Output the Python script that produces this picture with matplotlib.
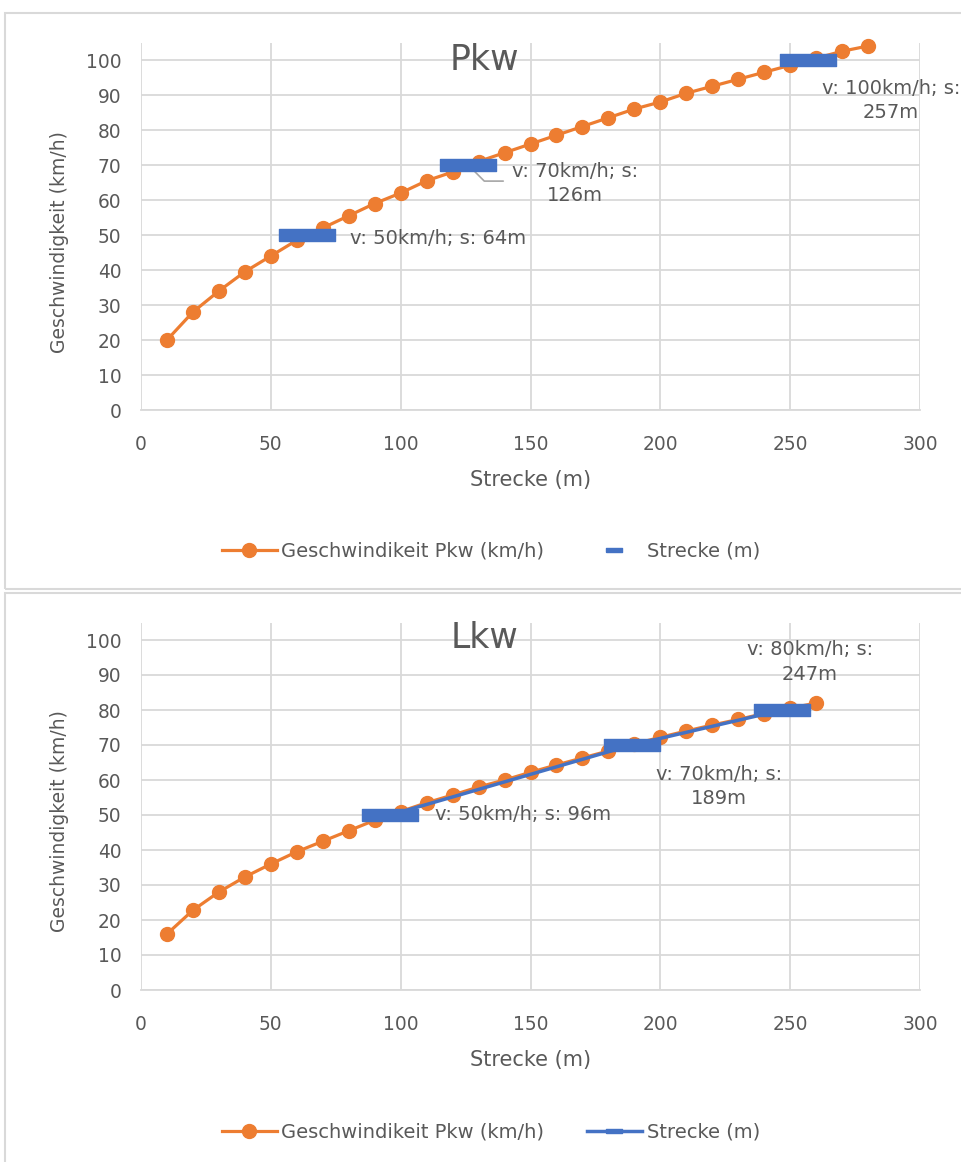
import numpy as np
import matplotlib.pyplot as plt
from matplotlib.lines import Line2D
from matplotlib.patches import Rectangle

plt.rcParams['font.family'] = ['DejaVu Sans']

# Data
pkw_x = list(range(10, 290, 10))
pkw_v = [20, 28, 34, 39.5, 44, 48.5, 52, 55.5, 59, 62, 65.5, 68, 71, 73.5,
         76, 78.5, 81, 83.5, 86, 88, 90.5, 92.5, 94.5, 96.5, 98.5, 100.5,
         102.5, 104]
pkw_s = [64, 126, 257]
pkw_sv = [50, 70, 100]
pkw_labels = ["v: 50km/h; s: 64m", "v: 70km/h; s:\n126m", "v: 100km/h; s:\n257m"]
pkw_label_pos = [(80.5, 49.1, 'left'), (167, 64.7, 'center'), (288.8, 88.4, 'center')]

lkw_x = list(range(10, 270, 10))
lkw_v = [16, 22.8, 28, 32.3, 36, 39.5, 42.5, 45.5, 48.5, 51, 53.5, 55.7, 58,
         60, 62.2, 64.3, 66.3, 68.3, 70.3, 72.2, 74, 75.7, 77.3, 79, 80.5, 82]
lkw_s = [96, 189, 247]
lkw_sv = [50, 70, 80]
lkw_labels = ["v: 50km/h; s: 96m", "v: 70km/h; s:\n189m", "v: 80km/h; s:\n247m"]
lkw_label_pos = [(113.2, 50, 'left'), (222.6, 58.1, 'center'), (257.5, 93.7, 'center')]

ORANGE = '#ED7D31'
BLUE = '#4472C4'
GREY = '#595959'
GRID = '#d9d9d9'

dash = [(-1, -0.2), (1, -0.2), (1, 0.2), (-1, 0.2), (-1, -0.2)]

fig = plt.figure(figsize=(9.61, 11.62), dpi=100)

# chart frames
fig.patches.append(Rectangle((5/961, 1-589/1162), 1.0, 576/1162, transform=fig.transFigure,
                             fill=False, edgecolor=GRID, lw=1.5))
fig.patches.append(Rectangle((5/961, -0.01), 1.0, 1-593/1162+0.01, transform=fig.transFigure,
                             fill=False, edgecolor=GRID, lw=1.5))


def setup(ax, title, ty, ly):
    ax.set_xlim(0, 300)
    ax.set_ylim(0, 105)
    ax.set_xticks(range(0, 301, 50))
    ax.set_yticks(range(0, 101, 10))
    ax.grid(True, color=GRID, lw=1.3)
    ax.set_axisbelow(True)
    for s in ['top', 'right', 'left']:
        ax.spines[s].set_visible(False)
    ax.spines['bottom'].set_color(GRID)
    ax.spines['bottom'].set_linewidth(1.3)
    ax.tick_params(length=0, labelsize=13.4, colors=GREY)
    ax.tick_params(axis='x', pad=18)
    ax.tick_params(axis='y', pad=14)
    ax.set_xlabel('Strecke (m)', fontsize=15, color=GREY)
    ax.xaxis.set_label_coords(0.5, -0.19)
    ax.xaxis.label.set_va('center')
    ax.set_ylabel('Geschwindigkeit (km/h)', fontsize=13.5, color=GREY)
    ax.yaxis.set_label_coords(-0.104, ly)
    ax.yaxis.label.set_va('center')
    ax.text(0.441, ty, title, transform=ax.transAxes, ha='center', va='center',
            fontsize=25, color=GREY)


# Pkw
ax1 = fig.add_axes([141/961, 1-410/1162, 779/961, 367.5/1162])
setup(ax1, 'Pkw', 0.952, 0.457)
ax1.plot(pkw_x, pkw_v, color=ORANGE, lw=2.3, marker='o', ms=10, zorder=3, clip_on=False)
ax1.plot(pkw_s, pkw_sv, ls='none', marker=dash, ms=40, color=BLUE, mec=BLUE, zorder=4,
         clip_on=False)
for t, (x, y, ha) in zip(pkw_labels, pkw_label_pos):
    ax1.text(x, y, t, ha=ha, va='center', fontsize=14, color=GREY,
             linespacing=1.35, multialignment='center', clip_on=False)
ax1.annotate('', xy=(pkw_s[1], pkw_sv[1]), xytext=(139.5, 65.4),
             arrowprops=dict(arrowstyle='-', color='#a6a6a6', lw=1.2,
                             shrinkA=0, shrinkB=0,
                             connectionstyle='angle,angleA=0,angleB=-45,rad=0'))
h1 = [Line2D([], [], color=ORANGE, lw=2.3, marker='o', ms=10),
      Line2D([], [], ls='none', marker=dash, ms=11, color=BLUE)]
fig.legend(h1, ['Geschwindikeit Pkw (km/h)', 'Strecke (m)'], loc='center',
           bbox_to_anchor=(491/961, 1-551/1162), ncol=2, frameon=False,
           fontsize=14, labelcolor=GREY, handlelength=2.8, columnspacing=2.2,
           handletextpad=0.25)

# Lkw
ax2 = fig.add_axes([141/961, 1-990/1162, 779/961, 367.5/1162])
setup(ax2, 'Lkw', 0.958, 0.46)
ax2.plot(lkw_x, lkw_v, color=ORANGE, lw=2.3, marker='o', ms=10, zorder=3, clip_on=False)
ax2.plot(lkw_s, lkw_sv, lw=2.5, marker=dash, ms=40, color=BLUE, mec=BLUE, zorder=4,
         clip_on=False)
for t, (x, y, ha) in zip(lkw_labels, lkw_label_pos):
    ax2.text(x, y, t, ha=ha, va='center', fontsize=14, color=GREY,
             linespacing=1.35, multialignment='center', clip_on=False)
h2 = [Line2D([], [], color=ORANGE, lw=2.3, marker='o', ms=10),
      Line2D([], [], color=BLUE, lw=2.5, marker=dash, ms=11)]
fig.legend(h2, ['Geschwindikeit Pkw (km/h)', 'Strecke (m)'], loc='center',
           bbox_to_anchor=(491/961, 1-1132/1162), ncol=2, frameon=False,
           fontsize=14, labelcolor=GREY, handlelength=2.8, columnspacing=2.2,
           handletextpad=0.25)

fig.savefig('out.png', dpi=100)
